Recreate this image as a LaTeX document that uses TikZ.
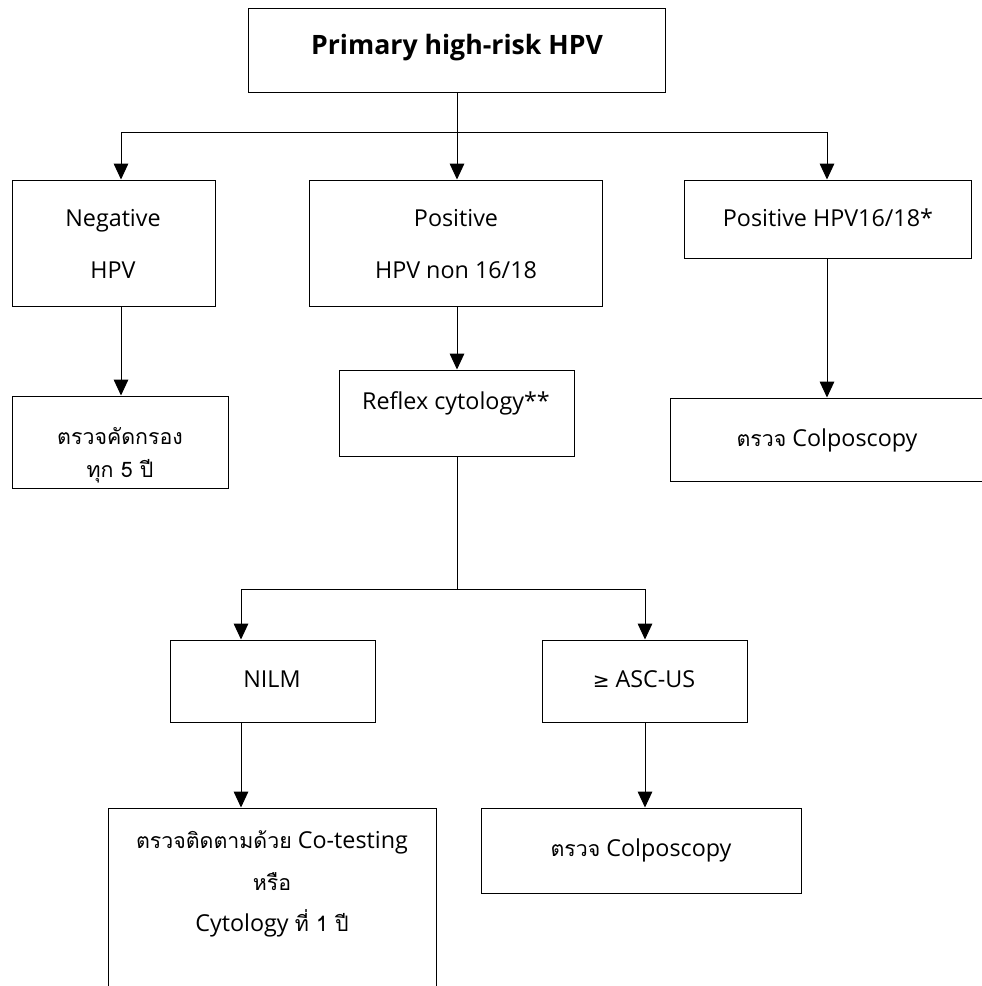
\documentclass[tikz,border=0pt]{standalone}
\usepackage{fontspec}
\setmainfont{Open Sans}
\newfontfamily\thaifont[Script=Thai]{Loma}
\newfontfamily\symfont{DejaVu Sans}
\usetikzlibrary{arrows.meta}
\begin{document}
\begin{tikzpicture}[x=0.75pt,y=-0.75pt,
  pbox/.style n args={4}{draw, line width=0.75pt, inner sep=0pt,
    minimum width={(#3-#1)*0.75pt}, minimum height={(#4-#2)*0.75pt},
    at={({(#1+#3)/2},{(#2+#4)/2})}},
  txt/.style={inner sep=0pt, align=center, font=\fontsize{17.5}{29}\selectfont},
  arr/.style={-{Triangle[width=11pt,length=12pt]}, line width=0.75pt},
  ln/.style={line width=0.75pt}]
\useasboundingbox (0,0) rectangle (982,986);
\clip (0,0) rectangle (982,986);
% boxes
\node[pbox={248}{8}{665}{92}] (top) {};
\node[pbox={12}{180}{215}{306}] (neg) {};
\node[pbox={309}{180}{602}{306}] (pos) {};
\node[pbox={684}{180}{971}{258}] (p1618) {};
\node[pbox={12}{396}{228}{488}] (screen) {};
\node[pbox={339}{370}{574}{456}] (reflex) {};
\node[pbox={670}{398}{984}{481}] (colpo1) {};
\node[pbox={170}{640}{375}{722}] (nilm) {};
\node[pbox={542}{640}{747}{722}] (ascus) {};
\node[pbox={108}{808}{436}{1010}] (cotest) {};
\node[pbox={481}{808}{801}{893}] (colpo2) {};
% texts
\node[txt, font=\bfseries\fontsize{20}{24}\selectfont] (ttop) at (457,48) {Primary high-risk HPV};
\node[txt, font=\fontsize{17.5}{39}\selectfont] (tneg) at (113,244) {Negative\\HPV};
\node[txt, font=\fontsize{17.5}{39}\selectfont] (tpos) at (456,244) {Positive\\HPV non 16/18};
\node[txt] (tp1618) at (828,218) {Positive HPV16/18*};
\node[txt, font=\fontsize{16}{25}\selectfont] (tscreen) at (120,455) {\thaifont ตรวจคัดกรอง\\\thaifont ทุก 5 ปี};
\node[txt] (treflex) at (456,403) {Reflex cytology**};
\node[txt] (tcolpo1) at (827,440) {{\thaifont\fontsize{16}{20}\selectfont ตรวจ} Colposcopy};
\node[txt] (tnilm) at (272,679) {NILM};
\node[txt] (tascus) at (644,679) {{\symfont\fontsize{15}{20}\selectfont ≥} ASC-US};
\node[txt, font=\fontsize{17.5}{31}\selectfont] (tcotest) at (272,884) {{\thaifont\fontsize{16}{20}\selectfont ตรวจติดตามด้วย} Co-testing\\{\thaifont\fontsize{16}{20}\selectfont หรือ}\\Cytology {\thaifont\fontsize{16}{20}\selectfont ที่ 1 ปี}};
\node[txt] (tcolpo2) at (641,850) {{\thaifont\fontsize{16}{20}\selectfont ตรวจ} Colposcopy};
% junctions
\coordinate (j1) at (457,132);
\coordinate (jl) at (121,132);
\coordinate (jr) at (827,132);
\coordinate (j2) at (457,589);
\coordinate (kl) at (241,589);
\coordinate (kr) at (645,589);
% connectors
\draw[ln] (top.south -| j1) -- (j1);
\draw[ln] (jl) -- (jr);
\draw[arr] (jl) -- (neg.north -| jl);
\draw[arr] (j1) -- (pos.north -| j1);
\draw[arr] (jr) -- (p1618.north -| jr);
\draw[arr] (neg.south -| jl) -- (screen.north -| jl);
\draw[arr] (pos.south -| j1) -- (reflex.north -| j1);
\draw[arr] (p1618.south -| jr) -- (colpo1.north -| jr);
\draw[ln] (reflex.south -| j2) -- (j2);
\draw[ln] (kl) -- (kr);
\draw[arr] (kl) -- (nilm.north -| kl);
\draw[arr] (kr) -- (ascus.north -| kr);
\draw[arr] (nilm.south -| kl) -- (cotest.north -| kl);
\draw[arr] (ascus.south -| kr) -- (colpo2.north -| kr);
\end{tikzpicture}
\end{document}
